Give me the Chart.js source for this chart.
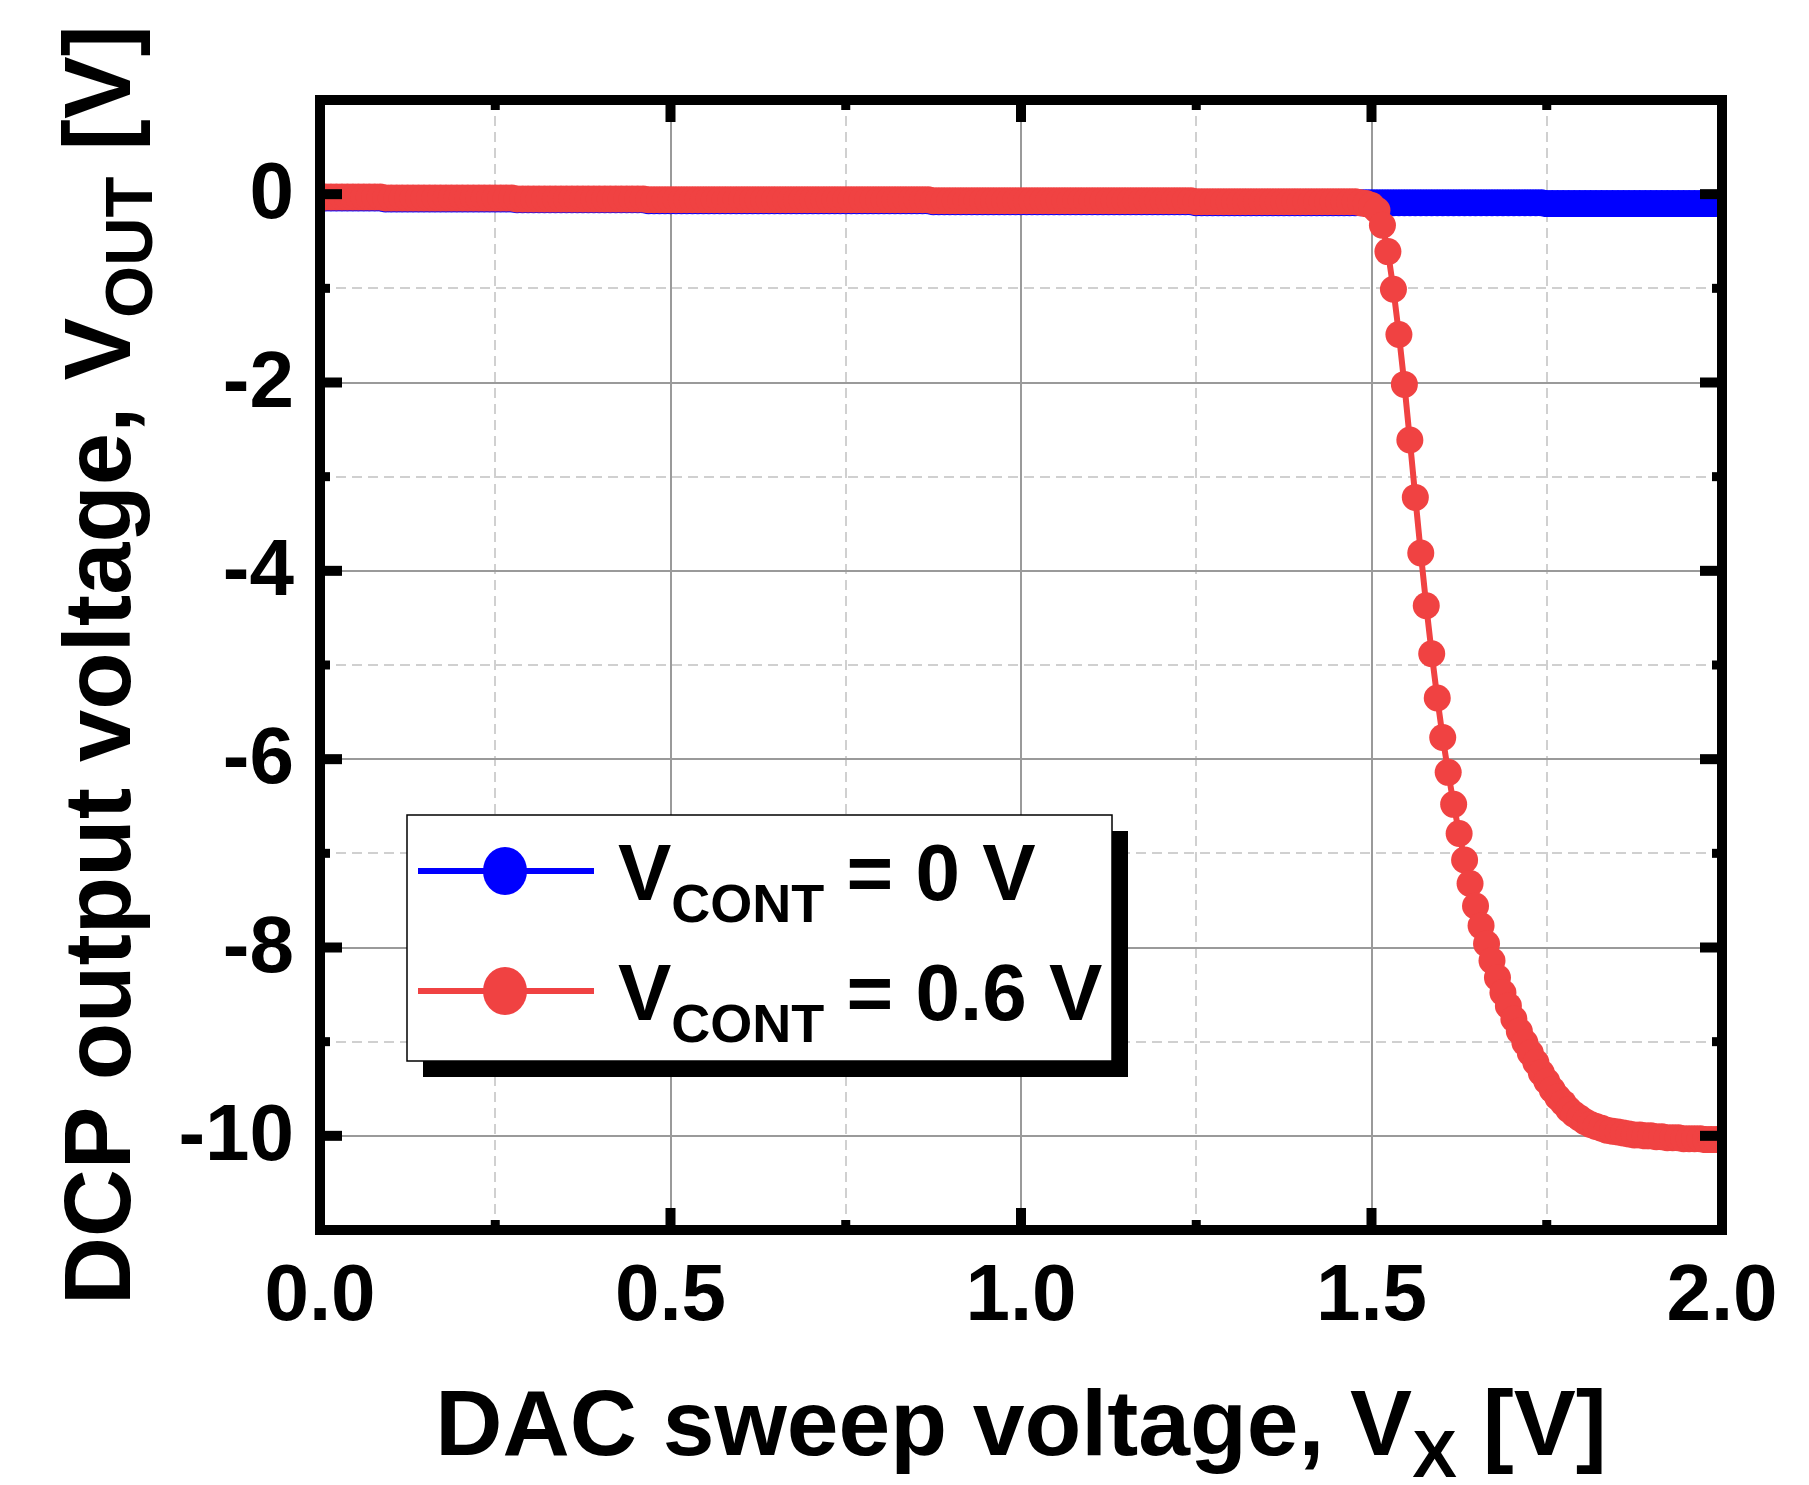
<!DOCTYPE html>
<html>
<head>
<meta charset="utf-8">
<script src="https://cdn.jsdelivr.net/npm/chart.js@4.4.0/dist/chart.umd.min.js"></script>
<style>
  body { margin: 0; background: #fff; }
  #wrap { width: 1809px; height: 1485px; }
</style>
</head>
<body>
<div id="wrap"><canvas id="myChart"></canvas></div>
<script>
// DAC sweep voltage, V_X [V] (8-bit sweep, 0 to 2 V)
let sweepX = [
  0, 0.0078, 0.0156, 0.0234, 0.0313, 0.0391, 0.0469, 0.0547,
  0.0625, 0.0703, 0.0781, 0.0859, 0.0938, 0.1016, 0.1094, 0.1172,
  0.125, 0.1328, 0.1406, 0.1484, 0.1563, 0.1641, 0.1719, 0.1797,
  0.1875, 0.1953, 0.2031, 0.2109, 0.2188, 0.2266, 0.2344, 0.2422,
  0.25, 0.2578, 0.2656, 0.2734, 0.2813, 0.2891, 0.2969, 0.3047,
  0.3125, 0.3203, 0.3281, 0.3359, 0.3438, 0.3516, 0.3594, 0.3672,
  0.375, 0.3828, 0.3906, 0.3984, 0.4063, 0.4141, 0.4219, 0.4297,
  0.4375, 0.4453, 0.4531, 0.4609, 0.4688, 0.4766, 0.4844, 0.4922,
  0.5, 0.5078, 0.5156, 0.5234, 0.5313, 0.5391, 0.5469, 0.5547,
  0.5625, 0.5703, 0.5781, 0.5859, 0.5938, 0.6016, 0.6094, 0.6172,
  0.625, 0.6328, 0.6406, 0.6484, 0.6563, 0.6641, 0.6719, 0.6797,
  0.6875, 0.6953, 0.7031, 0.7109, 0.7188, 0.7266, 0.7344, 0.7422,
  0.75, 0.7578, 0.7656, 0.7734, 0.7813, 0.7891, 0.7969, 0.8047,
  0.8125, 0.8203, 0.8281, 0.8359, 0.8438, 0.8516, 0.8594, 0.8672,
  0.875, 0.8828, 0.8906, 0.8984, 0.9063, 0.9141, 0.9219, 0.9297,
  0.9375, 0.9453, 0.9531, 0.9609, 0.9688, 0.9766, 0.9844, 0.9922,
  1, 1.0078, 1.0156, 1.0234, 1.0313, 1.0391, 1.0469, 1.0547,
  1.0625, 1.0703, 1.0781, 1.0859, 1.0938, 1.1016, 1.1094, 1.1172,
  1.125, 1.1328, 1.1406, 1.1484, 1.1563, 1.1641, 1.1719, 1.1797,
  1.1875, 1.1953, 1.2031, 1.2109, 1.2188, 1.2266, 1.2344, 1.2422,
  1.25, 1.2578, 1.2656, 1.2734, 1.2813, 1.2891, 1.2969, 1.3047,
  1.3125, 1.3203, 1.3281, 1.3359, 1.3438, 1.3516, 1.3594, 1.3672,
  1.375, 1.3828, 1.3906, 1.3984, 1.4063, 1.4141, 1.4219, 1.4297,
  1.4375, 1.4453, 1.4531, 1.4609, 1.4688, 1.4766, 1.4844, 1.4922,
  1.5, 1.5078, 1.5156, 1.5234, 1.5313, 1.5391, 1.5469, 1.5547,
  1.5625, 1.5703, 1.5781, 1.5859, 1.5938, 1.6016, 1.6094, 1.6172,
  1.625, 1.6328, 1.6406, 1.6484, 1.6563, 1.6641, 1.6719, 1.6797,
  1.6875, 1.6953, 1.7031, 1.7109, 1.7188, 1.7266, 1.7344, 1.7422,
  1.75, 1.7578, 1.7656, 1.7734, 1.7813, 1.7891, 1.7969, 1.8047,
  1.8125, 1.8203, 1.8281, 1.8359, 1.8438, 1.8516, 1.8594, 1.8672,
  1.875, 1.8828, 1.8906, 1.8984, 1.9063, 1.9141, 1.9219, 1.9297,
  1.9375, 1.9453, 1.9531, 1.9609, 1.9688, 1.9766, 1.9844, 1.9922,
  2
];

// V_OUT [V] with V_CONT = 0 V
let voutCont0 = [
  -0.04, -0.04, -0.04, -0.04, -0.04, -0.04, -0.04, -0.04,
  -0.04, -0.04, -0.04, -0.04, -0.05, -0.05, -0.05, -0.05,
  -0.05, -0.05, -0.05, -0.05, -0.05, -0.05, -0.05, -0.05,
  -0.05, -0.05, -0.05, -0.05, -0.05, -0.05, -0.05, -0.05,
  -0.05, -0.05, -0.05, -0.05, -0.06, -0.06, -0.06, -0.06,
  -0.06, -0.06, -0.06, -0.06, -0.06, -0.06, -0.06, -0.06,
  -0.06, -0.06, -0.06, -0.06, -0.06, -0.06, -0.06, -0.06,
  -0.06, -0.06, -0.06, -0.06, -0.07, -0.07, -0.07, -0.07,
  -0.07, -0.07, -0.07, -0.07, -0.07, -0.07, -0.07, -0.07,
  -0.07, -0.07, -0.07, -0.07, -0.07, -0.07, -0.07, -0.07,
  -0.07, -0.07, -0.07, -0.07, -0.07, -0.07, -0.07, -0.07,
  -0.07, -0.07, -0.07, -0.07, -0.07, -0.07, -0.07, -0.07,
  -0.07, -0.07, -0.07, -0.07, -0.07, -0.07, -0.07, -0.07,
  -0.07, -0.07, -0.07, -0.07, -0.07, -0.07, -0.07, -0.07,
  -0.08, -0.08, -0.08, -0.08, -0.08, -0.08, -0.08, -0.08,
  -0.08, -0.08, -0.08, -0.08, -0.08, -0.08, -0.08, -0.08,
  -0.08, -0.08, -0.08, -0.08, -0.08, -0.08, -0.08, -0.08,
  -0.08, -0.08, -0.08, -0.08, -0.08, -0.08, -0.08, -0.08,
  -0.08, -0.08, -0.08, -0.08, -0.08, -0.08, -0.08, -0.08,
  -0.08, -0.08, -0.08, -0.08, -0.08, -0.08, -0.08, -0.08,
  -0.09, -0.09, -0.09, -0.09, -0.09, -0.09, -0.09, -0.09,
  -0.09, -0.09, -0.09, -0.09, -0.09, -0.09, -0.09, -0.09,
  -0.09, -0.09, -0.09, -0.09, -0.09, -0.09, -0.09, -0.09,
  -0.09, -0.09, -0.09, -0.09, -0.09, -0.09, -0.09, -0.09,
  -0.09, -0.09, -0.09, -0.09, -0.09, -0.09, -0.09, -0.09,
  -0.09, -0.09, -0.09, -0.09, -0.09, -0.09, -0.09, -0.09,
  -0.09, -0.09, -0.09, -0.09, -0.09, -0.09, -0.09, -0.09,
  -0.09, -0.09, -0.09, -0.09, -0.09, -0.09, -0.09, -0.09,
  -0.10, -0.10, -0.10, -0.10, -0.10, -0.10, -0.10, -0.10,
  -0.10, -0.10, -0.10, -0.10, -0.10, -0.10, -0.10, -0.10,
  -0.10, -0.10, -0.10, -0.10, -0.10, -0.10, -0.10, -0.10,
  -0.10, -0.10, -0.10, -0.10, -0.10, -0.10, -0.10, -0.10,
  -0.10
];

// V_OUT [V] with V_CONT = 0.6 V
let voutCont06 = [
  -0.03, -0.03, -0.03, -0.03, -0.03, -0.03, -0.03, -0.03,
  -0.03, -0.03, -0.03, -0.03, -0.04, -0.04, -0.04, -0.04,
  -0.04, -0.04, -0.04, -0.04, -0.04, -0.04, -0.04, -0.04,
  -0.04, -0.04, -0.04, -0.04, -0.04, -0.04, -0.04, -0.04,
  -0.04, -0.04, -0.04, -0.04, -0.05, -0.05, -0.05, -0.05,
  -0.05, -0.05, -0.05, -0.05, -0.05, -0.05, -0.05, -0.05,
  -0.05, -0.05, -0.05, -0.05, -0.05, -0.05, -0.05, -0.05,
  -0.05, -0.05, -0.05, -0.05, -0.06, -0.06, -0.06, -0.06,
  -0.06, -0.06, -0.06, -0.06, -0.06, -0.06, -0.06, -0.06,
  -0.06, -0.06, -0.06, -0.06, -0.06, -0.06, -0.06, -0.06,
  -0.06, -0.06, -0.06, -0.06, -0.06, -0.06, -0.06, -0.06,
  -0.06, -0.06, -0.06, -0.06, -0.06, -0.06, -0.06, -0.06,
  -0.06, -0.06, -0.06, -0.06, -0.06, -0.06, -0.06, -0.06,
  -0.06, -0.06, -0.06, -0.06, -0.06, -0.06, -0.06, -0.06,
  -0.07, -0.07, -0.07, -0.07, -0.07, -0.07, -0.07, -0.07,
  -0.07, -0.07, -0.07, -0.07, -0.07, -0.07, -0.07, -0.07,
  -0.07, -0.07, -0.07, -0.07, -0.07, -0.07, -0.07, -0.07,
  -0.07, -0.07, -0.07, -0.07, -0.07, -0.07, -0.07, -0.07,
  -0.07, -0.07, -0.07, -0.07, -0.07, -0.07, -0.07, -0.07,
  -0.07, -0.07, -0.07, -0.07, -0.07, -0.07, -0.07, -0.07,
  -0.08, -0.08, -0.08, -0.08, -0.08, -0.08, -0.08, -0.08,
  -0.08, -0.08, -0.08, -0.08, -0.08, -0.08, -0.08, -0.08,
  -0.08, -0.08, -0.08, -0.08, -0.08, -0.08, -0.08, -0.08,
  -0.08, -0.08, -0.08, -0.08, -0.08, -0.08, -0.09, -0.10,
  -0.12, -0.17, -0.33, -0.61, -1.01, -1.49, -2.02, -2.61,
  -3.22, -3.81, -4.37, -4.88, -5.35, -5.77, -6.14, -6.48,
  -6.79, -7.07, -7.32, -7.56, -7.77, -7.96, -8.14, -8.32,
  -8.48, -8.62, -8.76, -8.89, -9.01, -9.12, -9.22, -9.33,
  -9.42, -9.51, -9.59, -9.65, -9.72, -9.77, -9.81, -9.85,
  -9.88, -9.90, -9.92, -9.94, -9.95, -9.96, -9.97, -9.98,
  -9.99, -9.99, -10.00, -10.00, -10.01, -10.01, -10.02, -10.02,
  -10.02, -10.03, -10.03, -10.03, -10.03, -10.04, -10.04, -10.04,
  -10.04
];

let xTicks = [0, 0.5, 1.0, 1.5, 2.0];
let xTickLabels = ['0.0', '0.5', '1.0', '1.5', '2.0'];
let yTicks = [0, -2, -4, -6, -8, -10];
let yTickLabels = ['0', '-2', '-4', '-6', '-8', '-10'];
let seriesColors = ['#0000ff', '#f04242'];
let seriesNames = [['V', 'CONT', ' = 0 V'], ['V', 'CONT', ' = 0.6 V']];

let family = '"Liberation Sans", Arial, sans-serif';

function isMajorX(v) { return Math.abs(v * 2 - Math.round(v * 2)) < 1e-6; }
function isMajorY(v) { return Math.abs(Math.round(v)) % 2 === 0; }

// draws text pieces in a row: [text, size, dy]
function drawParts(ctx, parts, x, y, align) {
  let total = 0;
  parts.forEach(p => {
    ctx.font = 'bold ' + p[1] + 'px ' + family;
    total += ctx.measureText(p[0]).width;
  });
  let cx = x;
  if (align === 'center') cx = x - total / 2;
  if (align === 'right') cx = x - total;
  ctx.textAlign = 'left';
  ctx.textBaseline = 'alphabetic';
  parts.forEach(p => {
    ctx.font = 'bold ' + p[1] + 'px ' + family;
    ctx.fillText(p[0], cx, y + p[2]);
    cx += ctx.measureText(p[0]).width;
  });
}

let framePlugin = {
  id: 'frame',
  afterDraw(chart) {
    let ctx = chart.ctx;
    let a = chart.chartArea;
    let xs = chart.scales.x, ys = chart.scales.y;
    ctx.save();
    ctx.fillStyle = '#000';

    // ticks, inward on all four sides
    xs.ticks.forEach(t => {
      let px = xs.getPixelForValue(t.value);
      let len = isMajorX(t.value) ? 22 : 10;
      let w = isMajorX(t.value) ? 10 : 9;
      ctx.fillRect(px - w / 2, a.bottom - len, w, len);
      ctx.fillRect(px - w / 2, a.top, w, len);
    });
    ys.ticks.forEach(t => {
      let py = ys.getPixelForValue(t.value);
      let len = isMajorY(t.value) ? 22 : 10;
      let w = isMajorY(t.value) ? 10 : 9;
      ctx.fillRect(a.left, py - w / 2, len, w);
      ctx.fillRect(a.right - len, py - w / 2, len, w);
    });

    // frame
    ctx.strokeStyle = '#000';
    ctx.lineWidth = 10;
    ctx.strokeRect(a.left, a.top, a.right - a.left, a.bottom - a.top);

    // tick labels
    ctx.font = 'bold 80px ' + family;
    ctx.textAlign = 'right';
    ctx.textBaseline = 'middle';
    yTicks.forEach((v, i) => {
      ctx.fillText(yTickLabels[i], a.left - 26, ys.getPixelForValue(v) + 2);
    });
    ctx.textAlign = 'center';
    ctx.textBaseline = 'alphabetic';
    xTicks.forEach((v, i) => {
      ctx.fillText(xTickLabels[i], xs.getPixelForValue(v), a.bottom + 90);
    });

    // axis titles
    drawParts(ctx, [['DAC sweep voltage, V', 93, 0], ['X', 67, 22], [' [V]', 93, 0]],
      (a.left + a.right) / 2, 1455, 'center');
    ctx.save();
    ctx.translate(130, (a.top + a.bottom) / 2);
    ctx.rotate(-Math.PI / 2);
    drawParts(ctx, [['DCP output voltage, V', 94, 0], ['OUT', 67, 22], [' [V]', 94, 0]], 0, 0, 'center');
    ctx.restore();

    // legend box with shadow
    let bx = 407, by = 815, bw = 705, bh = 246;
    ctx.fillStyle = '#000';
    ctx.fillRect(bx + 16, by + 16, bw, bh);
    ctx.fillStyle = '#fff';
    ctx.fillRect(bx, by, bw, bh);
    ctx.lineWidth = 1.5;
    ctx.strokeStyle = '#000';
    ctx.strokeRect(bx, by, bw, bh);
    [871, 991].forEach((ry, i) => {
      ctx.strokeStyle = seriesColors[i];
      ctx.lineWidth = 6;
      ctx.beginPath();
      ctx.moveTo(418, ry);
      ctx.lineTo(594, ry);
      ctx.stroke();
      ctx.fillStyle = seriesColors[i];
      ctx.beginPath();
      ctx.ellipse(505, ry, 22, 24, 0, 0, Math.PI * 2);
      ctx.fill();
      ctx.fillStyle = '#000';
      let n = seriesNames[i];
      drawParts(ctx, [[n[0], 80, 0], [n[1], 54, 22], [n[2], 80, 0]], 618, ry + 29, 'left');
    });
    ctx.restore();
  }
};

let myChart = document.getElementById('myChart').getContext('2d');

let chart1 = new Chart(myChart, {
  type: 'line',
  data: {
    datasets: [
      {
        label: 'VCONT = 0 V',
        data: sweepX.map((x, i) => ({ x: x, y: voutCont0[i] })),
        borderColor: seriesColors[0],
        backgroundColor: seriesColors[0],
        pointBackgroundColor: seriesColors[0],
        borderWidth: 6,
        pointRadius: 13.5,
        pointBorderWidth: 0,
        order: 2
      },
      {
        label: 'VCONT = 0.6 V',
        data: sweepX.map((x, i) => ({ x: x, y: voutCont06[i] })),
        borderColor: seriesColors[1],
        backgroundColor: seriesColors[1],
        pointBackgroundColor: seriesColors[1],
        borderWidth: 6,
        pointRadius: 13.5,
        pointBorderWidth: 0,
        order: 1
      }
    ]
  },
  options: {
    responsive: true,
    maintainAspectRatio: false,
    animation: false,
    layout: { padding: { left: 320, right: 87, top: 100, bottom: 255 } },
    plugins: {
      legend: { display: false },
      tooltip: { enabled: false }
    },
    scales: {
      x: {
        type: 'linear',
        min: 0,
        max: 2,
        ticks: { stepSize: 0.25, display: false },
        grid: {
          drawTicks: false,
          lineWidth: 2,
          color: c => (c.tick && isMajorX(c.tick.value)) ? '#9a9a9a' : '#d0d0d0'
        },
        border: {
          display: false,
          dash: c => (c.tick && !isMajorX(c.tick.value)) ? [10, 6] : []
        },
        afterFit: s => { s.height = 0; }
      },
      y: {
        type: 'linear',
        min: -11,
        max: 1,
        ticks: { stepSize: 1, display: false },
        grid: {
          drawTicks: false,
          lineWidth: 2,
          color: c => (c.tick && isMajorY(c.tick.value)) ? '#9a9a9a' : '#d0d0d0'
        },
        border: {
          display: false,
          dash: c => (c.tick && !isMajorY(c.tick.value)) ? [10, 6] : []
        },
        afterFit: s => { s.width = 0; }
      }
    }
  },
  plugins: [framePlugin]
});
</script>
</body>
</html>
